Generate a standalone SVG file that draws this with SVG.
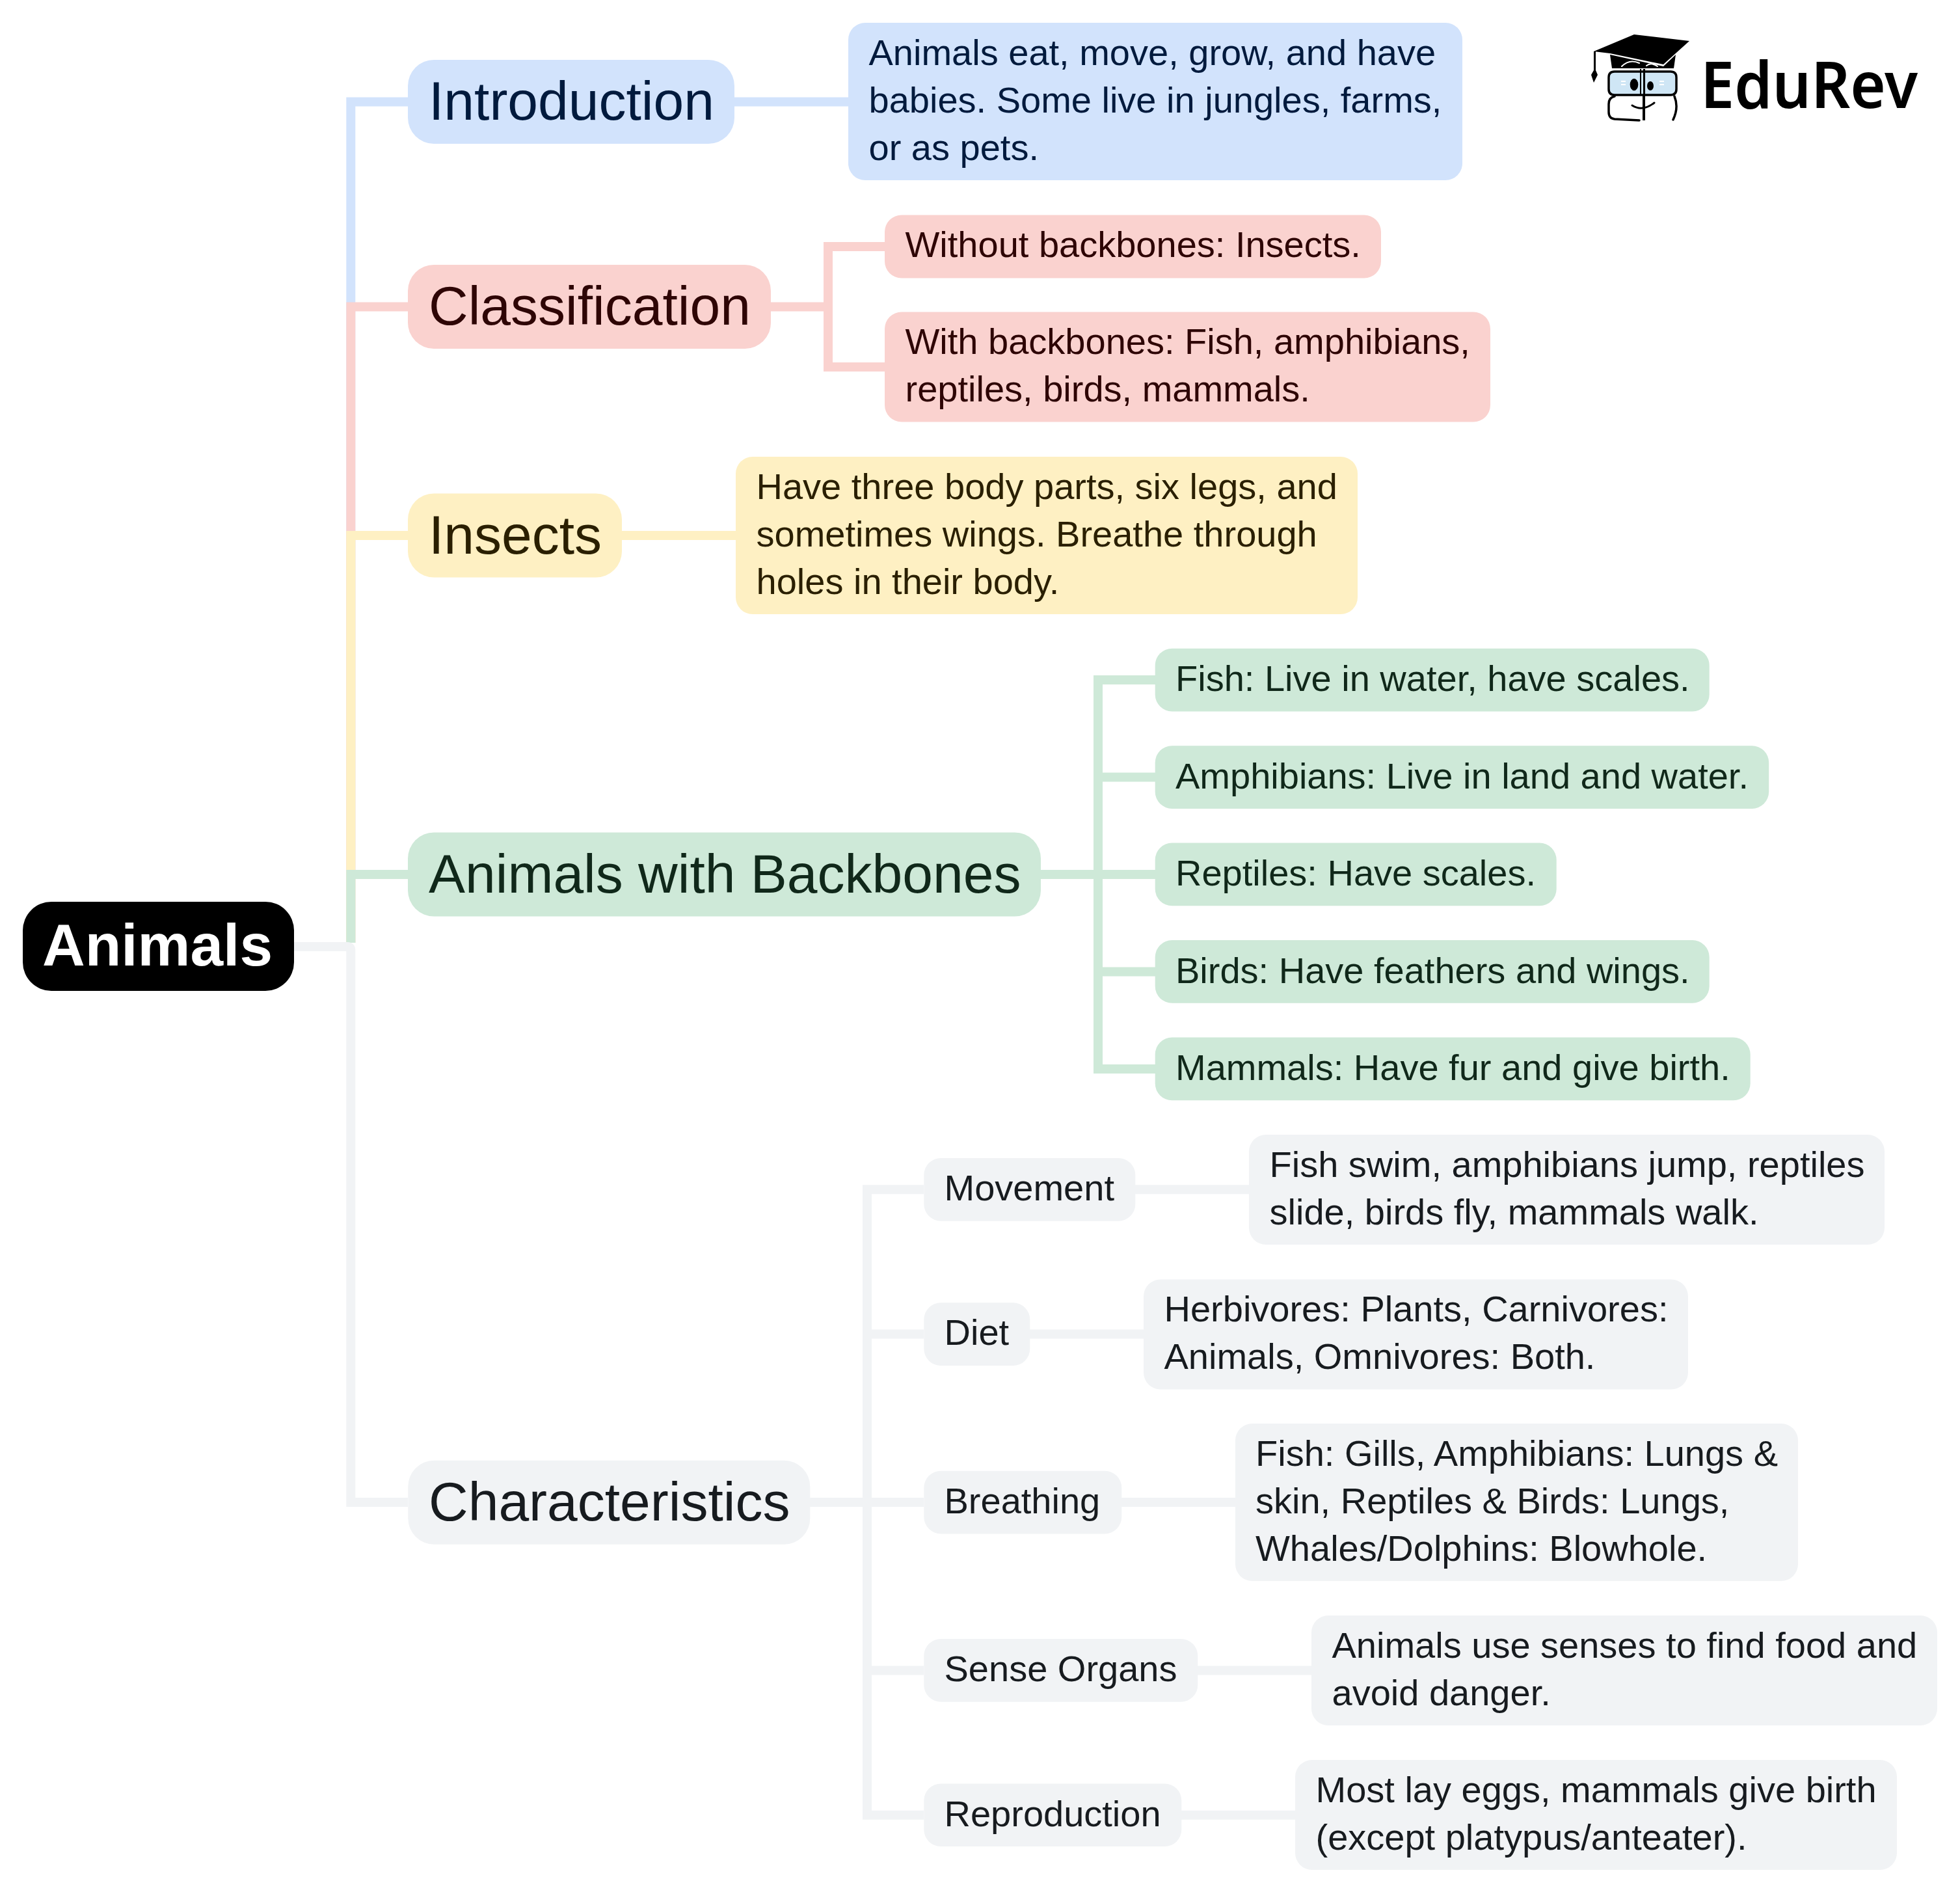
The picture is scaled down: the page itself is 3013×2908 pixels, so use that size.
<svg xmlns="http://www.w3.org/2000/svg" width="3013" height="2908" viewBox="0 0 3013 2908">
<style>
text{font-family:"Liberation Sans",Arial,sans-serif}
.c{fill:none;stroke-width:14;stroke-linejoin:miter}
.h{font-size:84px}.l{font-size:56px}
.bf{fill:#d2e3fc}.rf{fill:#fad2cf}.yf{fill:#fef0c3}.gf{fill:#cee9d8}.nf{fill:#f1f3f5}
.bt{fill:#001a3d}.rt{fill:#2e0505}.yt{fill:#2a1f00}.gt{fill:#10281a}.nt{fill:#171b1f}
.bs{stroke:#d2e3fc}.rs{stroke:#fad2cf}.ys{stroke:#fef0c3}.gs{stroke:#cee9d8}.ns{stroke:#f1f3f5}
</style>
<rect width="3013" height="2908" fill="#fff"/>
<g id="connectors">
<path class="c bs" d="M539.3 1449V156.5H627M1129 156.5H1305"/>
<path class="c rs" d="M539.3 1449V471.5H627M1184 471.5H1273M1360 379H1273V564H1360"/>
<path class="c ys" d="M539.3 1449V823H627M955 823H1131"/>
<path class="c gs" d="M539.3 1449V1344H627M1600 1344H1776M1776 1045H1688V1643H1776M1688 1194.6H1776M1688 1493.5H1776"/>
<path class="c ns" d="M452 1455H534Q539.3 1455 539.3 1460V2309H627M1245 2309H1420M1420 1828.3H1333V2789.7H1420M1333 2050.6H1420M1333 2567.4H1420M1745 1828.3H1920M1583 2050.6H1758M1724 2309H1899M1841 2567.4H2016M1816 2789.7H1991"/>
</g>
<g id="animals"><rect x="35" y="1386" width="417" height="137" rx="44" fill="#000"/><text x="65" y="1484" font-size="91" font-weight="700" fill="#fff">Animals</text></g>
<g id="introduction"><rect class="bf" x="627" y="92" width="502" height="129" rx="40"/><text class="h bt" x="659" y="183.5">Introduction</text></g>
<g id="introduction-text"><rect class="bf" x="1304" y="35" width="944" height="242" rx="26"/><text class="l bt" x="1335.5" y="99.5">Animals eat, move, grow, and have</text><text class="l bt" x="1335.5" y="172.5">babies. Some live in jungles, farms,</text><text class="l bt" x="1335.5" y="245.5">or as pets.</text></g>
<g id="classification"><rect class="rf" x="627" y="407" width="558" height="129" rx="40"/><text class="h rt" x="659" y="499">Classification</text></g>
<g id="without-backbones"><rect class="rf" x="1360" y="330.5" width="763" height="97" rx="26"/><text class="l rt" x="1391.5" y="395">Without backbones: Insects.</text></g>
<g id="with-backbones"><rect class="rf" x="1360" y="479.5" width="931" height="169" rx="26"/><text class="l rt" x="1391.5" y="543.5">With backbones: Fish, amphibians,</text><text class="l rt" x="1391.5" y="616.5">reptiles, birds, mammals.</text></g>
<g id="insects"><rect class="yf" x="627" y="758.5" width="329" height="129" rx="40"/><text class="h yt" x="659" y="850.5">Insects</text></g>
<g id="insects-text"><rect class="yf" x="1131" y="702" width="956" height="242" rx="26"/><text class="l yt" x="1162.5" y="767">Have three body parts, six legs, and</text><text class="l yt" x="1162.5" y="840">sometimes wings. Breathe through</text><text class="l yt" x="1162.5" y="913">holes in their body.</text></g>
<g id="animals-with-backbones"><rect class="gf" x="627" y="1279.5" width="973" height="129" rx="40"/><text class="h gt" x="659" y="1372">Animals with Backbones</text></g>
<g id="fish"><rect class="gf" x="1775.7" y="996.7" width="852" height="96.7" rx="26"/><text class="l gt" x="1807" y="1062">Fish: Live in water, have scales.</text></g>
<g id="amphibians"><rect class="gf" x="1775.7" y="1146.2" width="943.5" height="96.7" rx="26"/><text class="l gt" x="1807" y="1211.5">Amphibians: Live in land and water.</text></g>
<g id="reptiles"><rect class="gf" x="1775.7" y="1295.6" width="617" height="96.7" rx="26"/><text class="l gt" x="1807" y="1361">Reptiles: Have scales.</text></g>
<g id="birds"><rect class="gf" x="1775.7" y="1445.1" width="852" height="96.7" rx="26"/><text class="l gt" x="1807" y="1510.5">Birds: Have feathers and wings.</text></g>
<g id="mammals"><rect class="gf" x="1775.7" y="1594.6" width="915" height="96.7" rx="26"/><text class="l gt" x="1807" y="1660">Mammals: Have fur and give birth.</text></g>
<g id="characteristics"><rect class="nf" x="627.3" y="2244.7" width="618" height="129" rx="40"/><text class="h nt" x="659" y="2336.7">Characteristics</text></g>
<g id="movement"><rect class="nf" x="1420.3" y="1780" width="325" height="96.7" rx="26"/><text class="l nt" x="1451.5" y="1845">Movement</text></g>
<g id="movement-text"><rect class="nf" x="1920" y="1744" width="977" height="169" rx="26"/><text class="l nt" x="1951.5" y="1809">Fish swim, amphibians jump, reptiles</text><text class="l nt" x="1951.5" y="1882">slide, birds fly, mammals walk.</text></g>
<g id="diet"><rect class="nf" x="1420.3" y="2002.3" width="163" height="96.7" rx="26"/><text class="l nt" x="1451.5" y="2067">Diet</text></g>
<g id="diet-text"><rect class="nf" x="1758" y="1966.5" width="837" height="169" rx="26"/><text class="l nt" x="1789.5" y="2030.5">Herbivores: Plants, Carnivores:</text><text class="l nt" x="1789.5" y="2103.5">Animals, Omnivores: Both.</text></g>
<g id="breathing"><rect class="nf" x="1420.3" y="2260.7" width="304" height="96.7" rx="26"/><text class="l nt" x="1451.5" y="2326">Breathing</text></g>
<g id="breathing-text"><rect class="nf" x="1899" y="2188" width="865" height="242" rx="26"/><text class="l nt" x="1930" y="2253">Fish: Gills, Amphibians: Lungs &amp;</text><text class="l nt" x="1930" y="2326">skin, Reptiles &amp; Birds: Lungs,</text><text class="l nt" x="1930" y="2399">Whales/Dolphins: Blowhole.</text></g>
<g id="sense-organs"><rect class="nf" x="1420.3" y="2519" width="421" height="96.7" rx="26"/><text class="l nt" x="1451.5" y="2584.4">Sense Organs</text></g>
<g id="sense-text"><rect class="nf" x="2016" y="2483" width="962" height="169" rx="26"/><text class="l nt" x="2047.5" y="2548">Animals use senses to find food and</text><text class="l nt" x="2047.5" y="2621">avoid danger.</text></g>
<g id="reproduction"><rect class="nf" x="1420.3" y="2741.4" width="396" height="96.7" rx="26"/><text class="l nt" x="1451.5" y="2806.7">Reproduction</text></g>
<g id="reproduction-text"><rect class="nf" x="1991" y="2705" width="925" height="169" rx="26"/><text class="l nt" x="2022.5" y="2770">Most lay eggs, mammals give birth</text><text class="l nt" x="2022.5" y="2843">(except platypus/anteater).</text></g>
<g id="logo">
<path fill="#cfe6f5" d="M2475 111H2575V146H2475Z"/>
<path fill="#000" d="M2450 79L2512 53L2597 63L2557 99L2475 82ZM2475 84L2557 102L2576 84L2573 105H2478Z"/>
<path fill="#000" d="M2450 79H2453V108L2456 115L2450 127L2446 115L2450 108Z"/>
<g fill="none" stroke="#000" stroke-linecap="round">
<path stroke-width="2" stroke="#fff" d="M2493 102Q2505 90 2520 97M2531 101Q2538 95 2548 102"/>
<path stroke-width="3.5" d="M2482 110H2568Q2577 110 2577 119V137Q2577 146 2568 146H2482Q2473 146 2473 137V119Q2473 110 2482 110Z"/>
<path stroke-width="3.5" d="M2482 148Q2473 150 2473 160V172Q2473 182 2482 183L2520 185M2574 148Q2581 165 2572 184"/>
<path stroke-width="3" d="M2509 162Q2525 172 2543 158"/>
</g>
<path fill="#000" d="M2521 106H2523V147H2526V106H2529V185H2525V147H2521Z"/>
<ellipse cx="2512" cy="130" rx="6.3" ry="9.3" fill="#000"/><ellipse cx="2537" cy="132" rx="5" ry="7" fill="#000"/>
<path fill="#fff" d="M2492 124h7v2h-7zM2492 129h7v2h-7zM2551 124h7v2h-7zM2551 129h7v2h-7z"/>
<text x="2614" y="166" font-size="99" font-weight="600" textLength="334" lengthAdjust="spacingAndGlyphs" fill="#000" style="font-family:'Noto Sans',sans-serif">EduRev</text>
</g>
</svg>
